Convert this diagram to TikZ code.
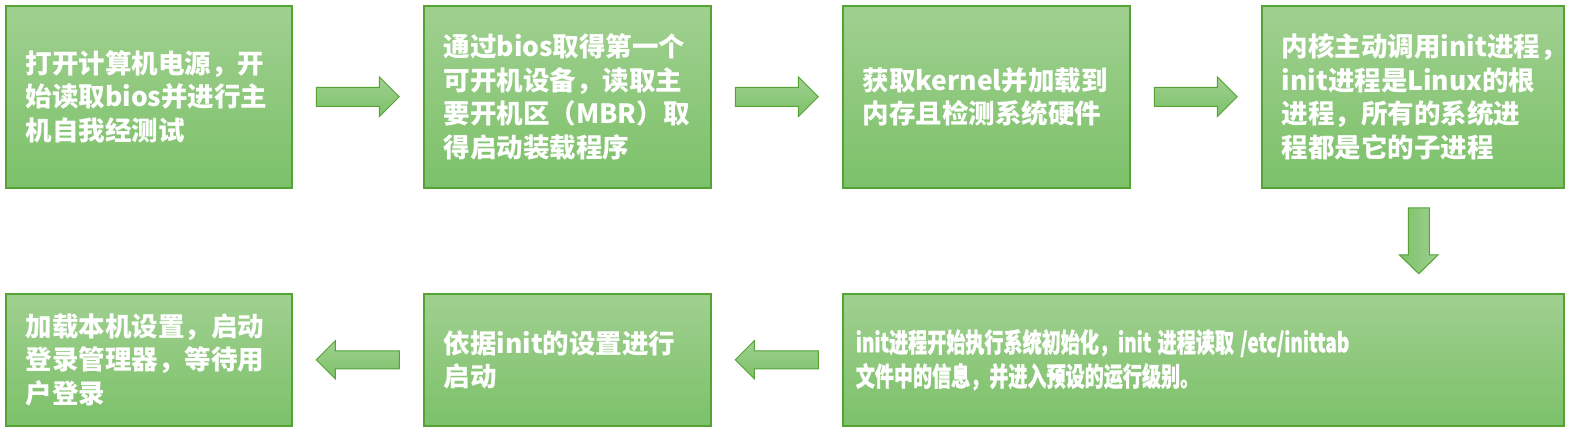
\documentclass[tikz,border=0pt]{standalone}
\usepackage{fontspec}
\usepackage{graphicx}
\usepackage{tikz}
\usetikzlibrary{calc}
\newfontfamily\cjk{Noto Sans CJK SC}
\newfontfamily\cjkheavy{Noto Sans CJK SC}[BoldFeatures={FakeBold=1.2}]
\definecolor{boxtop}{RGB}{160,208,144}
\definecolor{boxbot}{RGB}{124,193,105}
\definecolor{boxline}{RGB}{84,163,52}
\tikzset{
  stepbox/.style={draw=boxline, line width=0.75pt, top color=boxtop, bottom color=boxbot,
    text=white, align=left, anchor=north west, inner xsep=10pt, inner ysep=0pt,
    font={\cjk\bfseries\fontsize{13.25pt}{16.75pt}\selectfont}},
  arrowbody/.style={draw=boxline, line width=0.5pt, top color=boxtop, bottom color=boxbot},
  darrowbody/.style={draw=boxline, line width=0.5pt, left color=boxbot, right color=boxtop}
}
\newcommand{\Rarr}[1]{\draw[arrowbody,shift={(#1)}] (-41.5,-9.5) -- (21.5,-9.5) -- (21.5,-20) -- (41.5,0) -- (21.5,20) -- (21.5,9.5) -- (-41.5,9.5) -- cycle;}
\newcommand{\Larr}[1]{\draw[arrowbody,shift={(#1)}] (41.5,-9) -- (-22.5,-9) -- (-22.5,-19) -- (-41.5,0) -- (-22.5,19) -- (-22.5,9) -- (41.5,9) -- cycle;}
\newcommand{\Darr}[1]{\draw[darrowbody,shift={(#1)}] (-10.5,-33) -- (10.5,-33) -- (10.5,14) -- (19.5,14) -- (0,33) -- (-19.5,14) -- (-10.5,14) -- cycle;}
\begin{document}
\begin{tikzpicture}[x=0.5pt,y=-0.5pt]
    \useasboundingbox (0,0) rectangle (1569,430);

    \node[stepbox, text width=123pt, minimum height=91pt] (b1) at (5,5)
      {打开计算机电源，开\\始读取bios并进行主\\机自我经测试};
    \node[stepbox, text width=123.5pt, minimum height=91pt] (b2) at (423,5)
      {通过bios取得第一个\\可开机设备，读取主\\要开机区（MBR）取\\得启动装载程序};
    \node[stepbox, text width=123.5pt, minimum height=91pt] (b3) at (842,5)
      {获取kernel并加载到\\内存且检测系统硬件};
    \node[stepbox, text width=131pt, minimum height=91pt] (b4) at (1261,5)
      {内核主动调用init进程，\\init进程是Linux的根\\进程，所有的系统进\\程都是它的子进程};

    \node[stepbox, text width=123pt, minimum height=66pt] (b5) at (5,293)
      {加载本机设置，启动\\登录管理器，等待用\\户登录};
    \node[stepbox, text width=123.5pt, minimum height=66pt] (b6) at (423,293)
      {依据init的设置进行\\启动};
    \node[stepbox, text width=347.5pt, inner xsep=6.5pt, minimum height=66pt,
      font={\cjkheavy\bfseries\fontsize{13.25pt}{17pt}\selectfont}] (b7) at (842,293)
      {\scalebox{0.72}[1]{\parbox{480pt}{\raggedright init进程开始执行系统初始化，init 进程读取 /etc/inittab\\文件中的信息，并进入预设的运行级别。}}};

    \Rarr{$(b1.east)!.5!(b2.west)$}
    \Rarr{$(b2.east)!.5!(b3.west)$}
    \Rarr{$(b3.east)!.5!(b4.west)$}
    \Darr{$(b4.south)!.5!(b4.south|-b7.north)+(6,0)$}
    \Larr{$(b7.west)!.5!(b6.east)$}
    \Larr{$(b6.west)!.5!(b5.east)$}

  \end{tikzpicture}
\end{document}
